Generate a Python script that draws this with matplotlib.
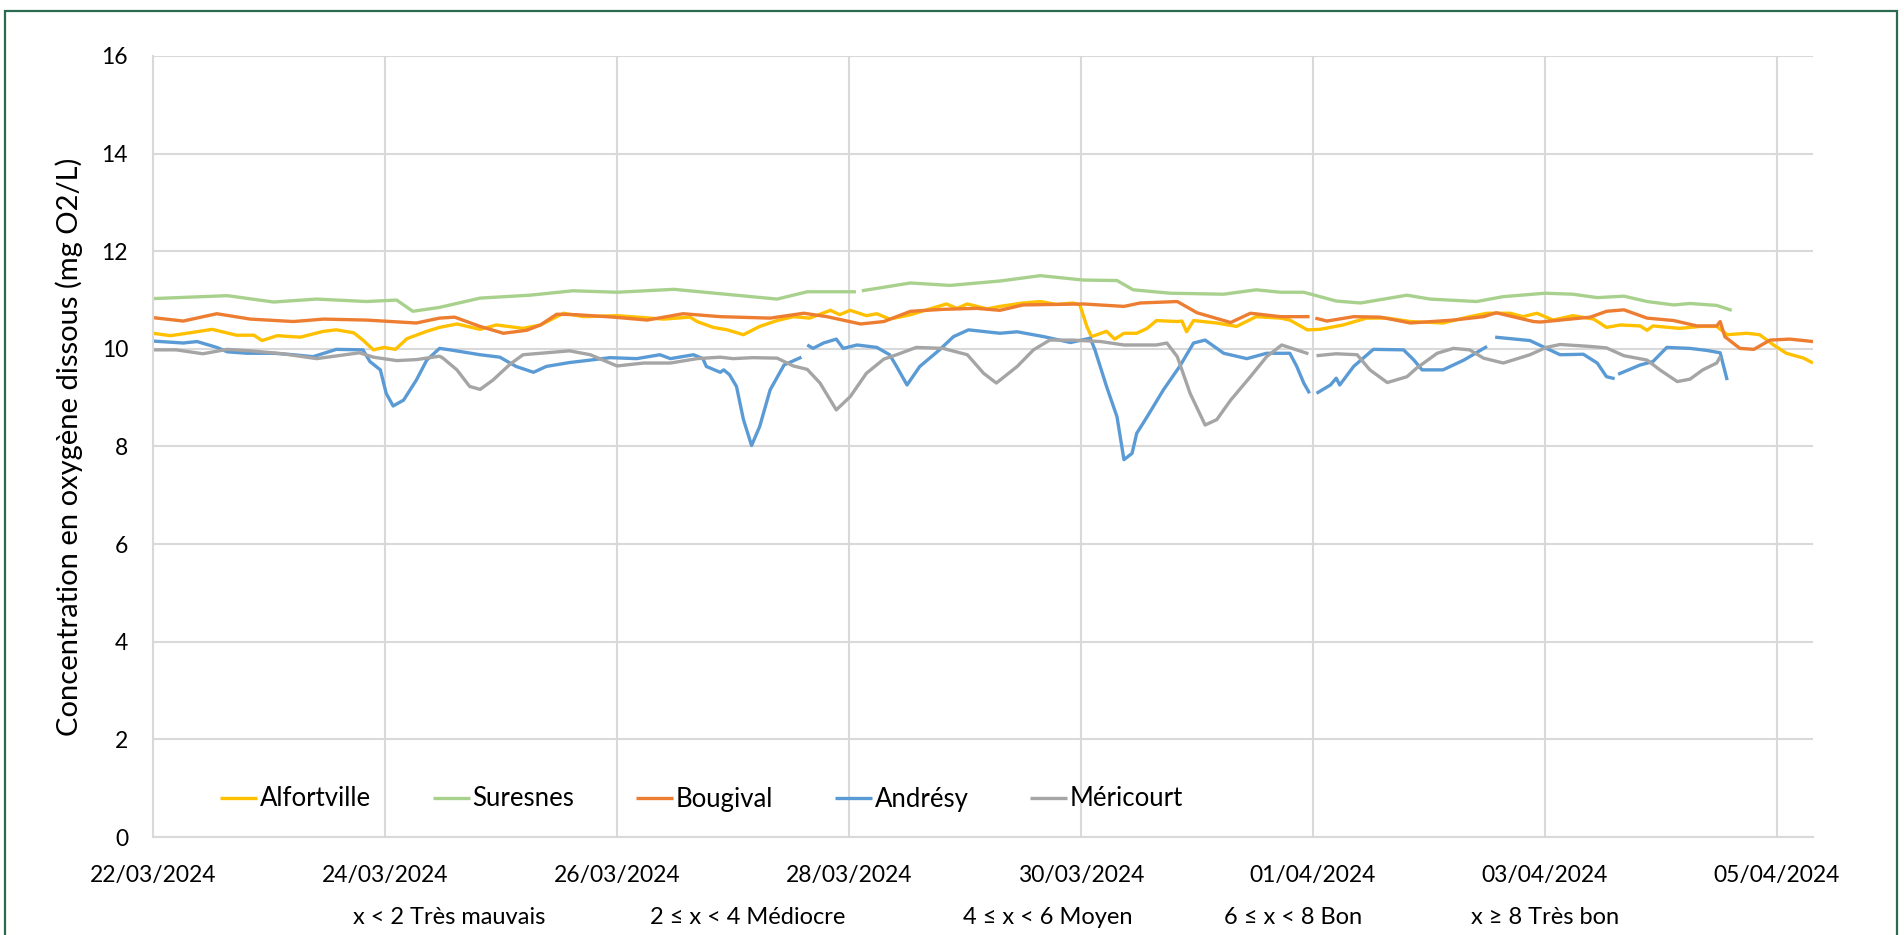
import numpy as np
import matplotlib
matplotlib.use('Agg')
import matplotlib.pyplot as plt
from matplotlib.patches import Rectangle

plt.rcParams['font.family'] = ['Lato', 'DejaVu Sans']

nan = np.nan
# jours depuis le 22/03/2024 00:00, concentration (mg O2/L)
alfortville = [(0, 10.32), (0.15, 10.27), (0.32, 10.33), (0.51, 10.4), (0.72, 10.28), (0.87, 10.28), (0.94, 10.17),
               (1.07, 10.27), (1.27, 10.24), (1.47, 10.36), (1.58, 10.39), (1.73, 10.33), (1.81, 10.18), (1.9, 9.98),
               (1.99, 10.03), (2.09, 9.99), (2.19, 10.21), (2.36, 10.36), (2.47, 10.44), (2.62, 10.51), (2.82, 10.4),
               (2.96, 10.49), (3.19, 10.42), (3.34, 10.49), (3.54, 10.73), (3.71, 10.66), (4.0, 10.68), (4.4, 10.61),
               (4.63, 10.65), (4.69, 10.56), (4.83, 10.44), (4.95, 10.39), (5.09, 10.29), (5.23, 10.46), (5.38, 10.58),
               (5.52, 10.66), (5.66, 10.63), (5.84, 10.79), (5.92, 10.7), (6.01, 10.79), (6.15, 10.68), (6.24, 10.72),
               (6.35, 10.61), (6.53, 10.7), (6.67, 10.8), (6.84, 10.92), (6.93, 10.83), (7.02, 10.92), (7.19, 10.82),
               (7.3, 10.87), (7.5, 10.94), (7.65, 10.97), (7.79, 10.91), (7.93, 10.94), (7.99, 10.9), (8.05, 10.46),
               (8.09, 10.25), (8.22, 10.36), (8.29, 10.2), (8.37, 10.32), (8.48, 10.32), (8.57, 10.42), (8.65, 10.58),
               (8.83, 10.56), (8.87, 10.57), (8.91, 10.35), (8.97, 10.58), (9.17, 10.53), (9.34, 10.46), (9.51, 10.66),
               (9.72, 10.63), (9.8, 10.59), (9.95, 10.39), (10.06, 10.4), (10.26, 10.49), (10.46, 10.63), (10.64, 10.63),
               (10.84, 10.56), (11.12, 10.53), (11.35, 10.66), (11.5, 10.73), (11.7, 10.73), (11.81, 10.66), (11.93, 10.73),
               (12.07, 10.59), (12.24, 10.68), (12.42, 10.61), (12.53, 10.44), (12.65, 10.49), (12.82, 10.47), (12.88, 10.38),
               (12.93, 10.47), (13.16, 10.42), (13.34, 10.46), (13.48, 10.46), (13.57, 10.29), (13.74, 10.32), (13.85, 10.29),
               (13.97, 10.08), (14.08, 9.91), (14.23, 9.81), (14.31, 9.71)]

suresnes = [(0, 11.03), (0.64, 11.09), (1.04, 10.96), (1.41, 11.02), (1.84, 10.97), (2.1, 11.0), (2.24, 10.77),
            (2.47, 10.85), (2.82, 11.04), (3.25, 11.1), (3.62, 11.19), (4.0, 11.16), (4.49, 11.22), (4.89, 11.13),
            (5.38, 11.02), (5.64, 11.17), (6.06, 11.17), (6.08, nan), (6.11, 11.19), (6.53, 11.35), (6.87, 11.3),
            (7.3, 11.39), (7.65, 11.5), (8.02, 11.41), (8.31, 11.4), (8.45, 11.21), (8.77, 11.14), (9.23, 11.12),
            (9.51, 11.21), (9.72, 11.16), (9.92, 11.16), (10.2, 10.98), (10.41, 10.94), (10.81, 11.1), (11.01, 11.02),
            (11.41, 10.97), (11.64, 11.07), (12.0, 11.14), (12.24, 11.12), (12.45, 11.05), (12.68, 11.08),
            (12.88, 10.97), (13.11, 10.9), (13.25, 10.93), (13.48, 10.89), (13.61, 10.79)]

bougival = [(0, 10.64), (0.26, 10.57), (0.55, 10.72), (0.84, 10.61), (1.21, 10.56), (1.47, 10.61), (1.84, 10.59),
            (2.27, 10.53), (2.47, 10.63), (2.6, 10.65), (2.82, 10.46), (3.02, 10.32), (3.22, 10.38), (3.34, 10.49),
            (3.48, 10.71), (3.65, 10.7), (3.97, 10.65), (4.26, 10.59), (4.57, 10.72), (4.89, 10.66), (5.32, 10.63),
            (5.61, 10.73), (5.81, 10.66), (6.1, 10.51), (6.3, 10.56), (6.53, 10.77), (6.81, 10.81), (7.1, 10.83),
            (7.3, 10.79), (7.5, 10.9), (8.02, 10.92), (8.37, 10.87), (8.51, 10.94), (8.83, 10.97), (9.0, 10.74),
            (9.29, 10.54), (9.46, 10.73), (9.72, 10.66), (9.97, 10.66), (10.0, nan), (10.02, 10.63), (10.12, 10.57),
            (10.35, 10.66), (10.58, 10.65), (10.84, 10.53), (11.21, 10.59), (11.47, 10.66), (11.58, 10.74),
            (11.9, 10.56), (11.96, 10.55), (12.39, 10.65), (12.53, 10.77), (12.68, 10.8), (12.88, 10.63),
            (13.11, 10.58), (13.31, 10.47), (13.48, 10.47), (13.51, 10.56), (13.55, 10.25), (13.68, 10.01),
            (13.8, 9.99), (13.94, 10.18), (14.11, 10.2), (14.31, 10.15)]

andresy = [(0, 10.16), (0.26, 10.12), (0.38, 10.15), (0.55, 10.03), (0.64, 9.94), (0.81, 9.91), (1.04, 9.91),
           (1.21, 9.88), (1.38, 9.84), (1.58, 9.99), (1.81, 9.98), (1.87, 9.74), (1.96, 9.57), (2.01, 9.09),
           (2.07, 8.83), (2.16, 8.95), (2.27, 9.36), (2.36, 9.77), (2.47, 10.01), (2.56, 9.98), (2.82, 9.88),
           (2.99, 9.83), (3.13, 9.64), (3.28, 9.52), (3.39, 9.64), (3.59, 9.72), (3.77, 9.77), (3.94, 9.82),
           (4.17, 9.8), (4.37, 9.88), (4.46, 9.8), (4.66, 9.88), (4.74, 9.8), (4.77, 9.64), (4.89, 9.52),
           (4.92, 9.57), (4.97, 9.47), (5.03, 9.23), (5.09, 8.55), (5.16, 8.02), (5.23, 8.41), (5.32, 9.16),
           (5.44, 9.67), (5.59, 9.83), (5.62, nan), (5.64, 10.08), (5.69, 10.01), (5.78, 10.12), (5.89, 10.2),
           (5.95, 10.01), (6.07, 10.08), (6.24, 10.03), (6.35, 9.88), (6.41, 9.64), (6.5, 9.26), (6.61, 9.64),
           (6.78, 9.98), (6.9, 10.25), (7.03, 10.39), (7.3, 10.32), (7.45, 10.35), (7.68, 10.25), (7.91, 10.13),
           (8.08, 10.22), (8.12, 9.98), (8.22, 9.23), (8.31, 8.61), (8.37, 7.73), (8.44, 7.86), (8.48, 8.27),
           (8.57, 8.61), (8.71, 9.16), (8.85, 9.64), (8.97, 10.12), (9.07, 10.18), (9.23, 9.91), (9.43, 9.8),
           (9.6, 9.91), (9.8, 9.91), (9.86, 9.64), (9.92, 9.3), (9.97, 9.09), (10.0, nan), (10.03, 9.09),
           (10.15, 9.26), (10.2, 9.4), (10.23, 9.26), (10.35, 9.64), (10.52, 9.99), (10.78, 9.98), (10.87, 9.77),
           (10.94, 9.57), (11.12, 9.57), (11.3, 9.77), (11.5, 10.05), (11.53, nan), (11.57, 10.24), (11.87, 10.17),
           (12.13, 9.88), (12.33, 9.89), (12.45, 9.71), (12.53, 9.43), (12.6, 9.39), (12.62, nan), (12.63, 9.48),
           (12.82, 9.67), (12.93, 9.74), (13.05, 10.03), (13.25, 10.01), (13.39, 9.97), (13.51, 9.92), (13.57, 9.36)]

mericourt = [(0, 9.98), (0.2, 9.98), (0.43, 9.9), (0.64, 9.99), (0.84, 9.96), (1.12, 9.9), (1.41, 9.8), (1.78, 9.92),
             (1.9, 9.83), (2.1, 9.76), (2.27, 9.78), (2.47, 9.85), (2.5, 9.81), (2.62, 9.57), (2.73, 9.23),
             (2.82, 9.17), (2.93, 9.36), (3.08, 9.69), (3.19, 9.88), (3.39, 9.92), (3.59, 9.96), (3.77, 9.88),
             (4.0, 9.65), (4.23, 9.71), (4.46, 9.71), (4.69, 9.8), (4.89, 9.83), (5.0, 9.8), (5.17, 9.82),
             (5.38, 9.81), (5.52, 9.65), (5.64, 9.58), (5.75, 9.3), (5.89, 8.75), (6.01, 9.02), (6.15, 9.5),
             (6.3, 9.79), (6.41, 9.88), (6.58, 10.03), (6.81, 10.01), (7.02, 9.88), (7.16, 9.5), (7.27, 9.3),
             (7.45, 9.64), (7.59, 9.98), (7.73, 10.18), (7.93, 10.18), (8.17, 10.15), (8.37, 10.08), (8.65, 10.08),
             (8.74, 10.12), (8.83, 9.84), (8.94, 9.09), (9.07, 8.44), (9.17, 8.55), (9.29, 8.95), (9.46, 9.43),
             (9.6, 9.84), (9.73, 10.08), (9.96, 9.9), (10.0, nan), (10.03, 9.86), (10.2, 9.9), (10.38, 9.88),
             (10.49, 9.57), (10.64, 9.31), (10.81, 9.43), (10.89, 9.6), (11.07, 9.91), (11.21, 10.01), (11.35, 9.98),
             (11.47, 9.81), (11.64, 9.71), (11.87, 9.88), (12.01, 10.03), (12.13, 10.09), (12.39, 10.05),
             (12.53, 10.02), (12.68, 9.86), (12.88, 9.77), (12.99, 9.57), (13.14, 9.33), (13.25, 9.38),
             (13.36, 9.57), (13.48, 9.71), (13.51, 9.84)]

series = ['Alfortville', 'Suresnes', 'Bougival', 'Andrésy', 'Méricourt']
colors = ['#FFC000', '#A9D18E', '#ED7D31', '#5B9BD5', '#A5A5A5']
data = [alfortville, suresnes, bougival, andresy, mericourt]

tick_days = [0, 2, 4, 6, 8, 10, 12, 14]
tick_labels = ['22/03/2024', '24/03/2024', '26/03/2024', '28/03/2024',
               '30/03/2024', '01/04/2024', '03/04/2024', '05/04/2024']
classes = ['x < 2 Très mauvais', '2 ≤ x < 4 Médiocre', '4 ≤ x < 6 Moyen', '6 ≤ x < 8 Bon', 'x ≥ 8 Très bon']

W, H = 1904, 935
fig = plt.figure(figsize=(W / 100, H / 100), dpi=100)
ax = fig.add_axes([153 / W, 1 - 837 / H, 1660 / W, 781 / H])

for name, col, d in zip(series, colors, data):
    arr = np.array(d, dtype=float)
    ax.plot(arr[:, 0], arr[:, 1], color=col, linewidth=2.4, label=name, solid_capstyle='butt')

ax.set_xlim(0, 14.31)
ax.set_ylim(0, 16)
ax.set_yticks(np.arange(0, 17, 2))
ax.set_xticks(tick_days)
ax.set_xticklabels(tick_labels)
ax.tick_params(axis='both', length=0, labelsize=16.5, colors='#000000')
ax.tick_params(axis='x', pad=20)
ax.tick_params(axis='y', pad=18)
ax.grid(True, color='#D9D9D9', linewidth=1.5)
ax.set_axisbelow(True)
for s in ['top', 'right']:
    ax.spines[s].set_visible(False)
for s in ['left', 'bottom']:
    ax.spines[s].set_color('#D9D9D9')
    ax.spines[s].set_linewidth(1.5)

ax.set_ylabel('Concentration en oxygène dissous (mg O2/L)', fontsize=21, labelpad=13)

leg = ax.legend(loc='center left', bbox_to_anchor=((220 - 153) / 1660, (837 - 799) / 781), ncol=5,
                frameon=False, fontsize=18.5, handlelength=1.45, handletextpad=0.1, columnspacing=2.4,
                borderpad=0, borderaxespad=0)

cx = [449, 748, 1048, 1293, 1545]
for c, txt in zip(cx, classes):
    fig.text(c / W, 1 - 917 / H, txt, fontsize=17, ha='center', va='center')

fig.patches.append(Rectangle((5 / W, -0.02), 1892 / W, 1 - 11 / H + 0.02, transform=fig.transFigure,
                             fill=False, edgecolor='#2B6A4E', linewidth=1.6, clip_on=False))

plt.savefig('out.png', dpi=100)
